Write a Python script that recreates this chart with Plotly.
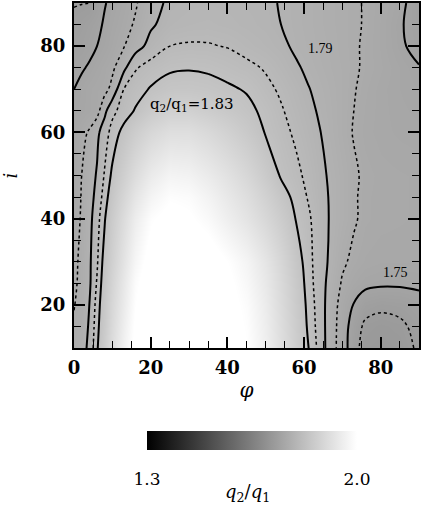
import plotly.graph_objects as go

# grid
phi = [0, 2, 4, 6, 8, 10, 13, 16, 20, 25, 30, 35, 40, 45, 50, 54, 58, 61, 64, 67, 70, 73, 76, 80, 85, 90]
inc = [10, 15, 20, 25, 30, 40, 45, 50, 60, 65, 70, 75, 80, 85, 90]

q_i10 = [1.776, 1.783, 1.794, 1.826, 1.866, 1.905, 1.965, 2.010, 2.040, 2.050, 2.050, 2.040, 2.025, 2.000, 1.955, 1.910, 1.865, 1.832, 1.803, 1.778, 1.761, 1.737, 1.722, 1.719, 1.722, 1.733]
q_i15 = [1.773, 1.780, 1.792, 1.821, 1.858, 1.897, 1.955, 2.005, 2.040, 2.050, 2.050, 2.040, 2.020, 1.995, 1.950, 1.905, 1.860, 1.827, 1.801, 1.779, 1.761, 1.740, 1.726, 1.723, 1.726, 1.736]
q_i20 = [1.769, 1.778, 1.790, 1.817, 1.852, 1.890, 1.946, 1.998, 2.035, 2.050, 2.050, 2.040, 2.015, 1.990, 1.945, 1.900, 1.856, 1.824, 1.800, 1.780, 1.763, 1.749, 1.738, 1.734, 1.736, 1.742]
q_i25 = [1.766, 1.776, 1.786, 1.812, 1.845, 1.882, 1.937, 1.990, 2.030, 2.050, 2.050, 2.035, 2.010, 1.980, 1.937, 1.895, 1.852, 1.820, 1.799, 1.783, 1.768, 1.760, 1.755, 1.753, 1.753, 1.754]
q_i30 = [1.765, 1.775, 1.786, 1.807, 1.840, 1.872, 1.925, 1.975, 2.020, 2.040, 2.040, 2.025, 2.000, 1.970, 1.928, 1.888, 1.845, 1.817, 1.800, 1.786, 1.773, 1.766, 1.762, 1.760, 1.760, 1.760]
q_i40 = [1.762, 1.772, 1.784, 1.801, 1.828, 1.858, 1.905, 1.950, 1.995, 2.015, 2.005, 1.985, 1.955, 1.925, 1.890, 1.860, 1.828, 1.814, 1.799, 1.788, 1.780, 1.772, 1.766, 1.764, 1.763, 1.762]
q_i45 = [1.761, 1.771, 1.782, 1.796, 1.819, 1.846, 1.888, 1.928, 1.970, 1.995, 1.990, 1.967, 1.938, 1.908, 1.873, 1.844, 1.821, 1.809, 1.797, 1.788, 1.780, 1.772, 1.766, 1.764, 1.763, 1.762]
q_i50 = [1.760, 1.770, 1.780, 1.792, 1.812, 1.835, 1.870, 1.905, 1.945, 1.970, 1.965, 1.945, 1.920, 1.890, 1.855, 1.827, 1.815, 1.805, 1.795, 1.787, 1.780, 1.7725, 1.767, 1.764, 1.763, 1.762]
q_i60 = [1.757, 1.765, 1.772, 1.785, 1.801, 1.817, 1.838, 1.862, 1.890, 1.910, 1.910, 1.895, 1.875, 1.852, 1.828, 1.817, 1.806, 1.798, 1.791, 1.783, 1.776, 1.769, 1.764, 1.761, 1.759, 1.758]
q_i65 = [1.753, 1.756, 1.759, 1.763, 1.785, 1.805, 1.818, 1.832, 1.855, 1.872, 1.873, 1.862, 1.850, 1.837, 1.824, 1.812, 1.802, 1.795, 1.788, 1.782, 1.776, 1.770, 1.765, 1.761, 1.758, 1.756]
q_i70 = [1.750, 1.755, 1.759, 1.762, 1.764, 1.776, 1.810, 1.820, 1.832, 1.842, 1.843, 1.840, 1.834, 1.828, 1.815, 1.807, 1.798, 1.791, 1.786, 1.781, 1.776, 1.771, 1.766, 1.761, 1.757, 1.754]
q_i75 = [1.745, 1.748, 1.752, 1.757, 1.762, 1.766, 1.785, 1.808, 1.818, 1.826, 1.828, 1.826, 1.821, 1.815, 1.808, 1.800, 1.792, 1.787, 1.783, 1.779, 1.776, 1.772, 1.768, 1.763, 1.757, 1.751]
q_i80 = [1.738, 1.741, 1.745, 1.750, 1.755, 1.760, 1.769, 1.781, 1.797, 1.810, 1.812, 1.8115, 1.809, 1.803, 1.798, 1.7935, 1.787, 1.784, 1.781, 1.778, 1.775, 1.772, 1.768, 1.762, 1.753, 1.744]
q_i85 = [1.734, 1.737, 1.741, 1.746, 1.752, 1.757, 1.764, 1.772, 1.787, 1.798, 1.801, 1.802, 1.800, 1.797, 1.794, 1.790, 1.786, 1.783, 1.780, 1.777, 1.775, 1.772, 1.769, 1.762, 1.752, 1.742]
q_i90 = [1.729, 1.7295, 1.7298, 1.738, 1.749, 1.754, 1.761, 1.768, 1.782, 1.794, 1.797, 1.798, 1.797, 1.795, 1.793, 1.789, 1.786, 1.783, 1.780, 1.777, 1.775, 1.772, 1.769, 1.763, 1.755, 1.740]

z = [q_i10, q_i15, q_i20, q_i25, q_i30, q_i40, q_i45, q_i50, q_i60,
     q_i65, q_i70, q_i75, q_i80, q_i85, q_i90]

solid_levels = (1.75, 1.83, 0.04)
dotted_levels = (1.73, 1.81, 0.04)
cbar_range = (1.3, 2.0)
cbar_ticks = [1.3, 2.0]
cbar_ticktext = ["1.3", "2.0"]
x_ticks = [0, 20, 40, 60, 80]
y_ticks = [20, 40, 60, 80]

labels = [
    ("q<sub>2</sub>/q<sub>1</sub>=1.83", 30.8, 66.5, "DejaVu Serif", 15),
    ("1.79", 64.2, 79.5, "Liberation Serif", 14),
    ("1.75", 83.8, 27.5, "Liberation Serif", 14),
]

fig = go.Figure()
fig.add_trace(go.Heatmap(
    x=phi, y=inc, z=z, zmin=cbar_range[0], zmax=cbar_range[1], zsmooth="best",
    colorscale=[[0, "black"], [1, "white"]], hoverinfo="skip",
    colorbar=dict(
        orientation="h", lenmode="pixels", len=210, thickness=19,
        x=0.516, xanchor="center", y=-0.2406, yanchor="top",
        xpad=0, ypad=0, outlinewidth=0,
        tickvals=cbar_ticks, ticktext=cbar_ticktext,
        ticks="outside", ticklen=15, tickcolor="rgba(0,0,0,0)",
        tickfont=dict(family="DejaVu Serif", size=17, color="black"),
    ),
))
fig.add_trace(go.Contour(
    x=phi, y=inc, z=z, autocontour=False, showscale=False, hoverinfo="skip",
    contours=dict(start=solid_levels[0], end=solid_levels[1], size=solid_levels[2], coloring="none"),
    line=dict(color="black", width=2, smoothing=1),
))
fig.add_trace(go.Contour(
    x=phi, y=inc, z=z, autocontour=False, showscale=False, hoverinfo="skip",
    contours=dict(start=dotted_levels[0], end=dotted_levels[1], size=dotted_levels[2], coloring="none"),
    line=dict(color="black", width=1.5, dash="dot", smoothing=1),
))

for txt, lx, ly, fam, sz in labels:
    fig.add_annotation(x=lx, y=ly, text=txt, showarrow=False,
                       font=dict(family=fam, size=sz, color="black"))

# colour-bar title
fig.add_annotation(xref="paper", yref="paper", x=0.504, y=-0.42, yanchor="middle",
                   text="<i>q</i><sub>2</sub>/<i>q</i><sub>1</sub>", showarrow=False,
                   font=dict(family="DejaVu Serif", size=18, color="black"))

tickfont = dict(family="DejaVu Serif", size=18, color="black", weight="bold")
axis_common = dict(
    ticks="inside", ticklen=11, tickwidth=1.5, tickcolor="black",
    showline=True, linewidth=2, linecolor="black", mirror="allticks",
    showgrid=False, zeroline=False, tickfont=tickfont,
    automargin=False,
    minor=dict(dtick=5, tick0=0, ticks="inside", ticklen=7, tickwidth=1.2, tickcolor="black", showgrid=False),
)
fig.update_xaxes(range=[0, 90], tickvals=x_ticks, ticklabelstandoff=2, **axis_common,
                 title=dict(text="<i>φ</i>", standoff=6,
                            font=dict(family="DejaVu Serif", size=20, color="black")))
fig.update_yaxes(range=[10, 90], tickvals=y_ticks, ticklabelstandoff=3, **axis_common,
                 title=dict(text="<i>i</i>", standoff=20,
                            font=dict(family="DejaVu Serif", size=18, color="black")))

fig.update_layout(
    width=425, height=507,
    margin=dict(l=74, r=6, t=3, b=159, autoexpand=False),
    paper_bgcolor="white", plot_bgcolor="white",
    showlegend=False,
)
fig.write_html("out.html", config={"displayModeBar": False},
               post_script="document.body.style.margin='0';document.body.style.overflow='hidden';")
